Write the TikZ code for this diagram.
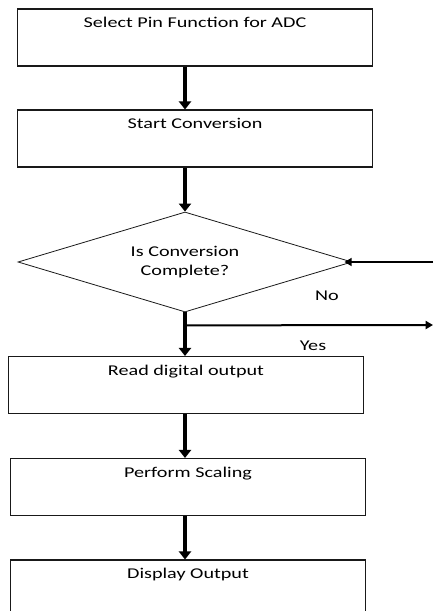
\documentclass[tikz,border=0pt]{standalone}
\usepackage{fontspec}
\setmainfont[FakeStretch=1.35]{Carlito}
\usepackage{tikz}
\usetikzlibrary{shapes.geometric, arrows.meta, positioning, calc}
\definecolor{flowline}{RGB}{25,25,25}

\tikzset{
  procbox/.style={rectangle, draw=flowline, line width=0.8pt, minimum width=266pt, minimum height=42.75pt, inner sep=0pt},
  boxtext/.style={anchor=north, inner sep=0pt, yshift=-6.5pt, font=\fontsize{11.2}{13}\selectfont},
  decision/.style={diamond, aspect=3.3, draw=flowline, line width=0.6pt, minimum width=250.5pt, minimum height=75pt, inner sep=0pt, align=center, font=\fontsize{11.2}{14}\selectfont},
  flowarrow/.style={draw=black, line width=2.6pt, -{Triangle[width=9pt,length=6pt]}},
  sidearrow/.style={draw=black, line width=1.5pt, -{Triangle[width=6pt,length=5.5pt]}},
  branchtext/.style={inner sep=0pt, font=\fontsize{11.2}{13}\selectfont}
}

\begin{document}
\begin{tikzpicture}[x=0.75pt, y=-0.75pt]
    \clip (0,0) rectangle (433,611);
    % process steps
    \node[procbox, label={[boxtext]north:Select Pin Function for ADC}] (selpin) at (195,37.5) {};
    \node[procbox, label={[boxtext]north:Start Conversion}] (startconv) at (195,138.5) {};
    \node[decision] (convdone) at (185,262) {Is Conversion\\Complete?};
    \node[procbox, label={[boxtext]north:Read digital output}] (readout) at (186,385) {};
    \node[procbox, label={[boxtext]north:Perform Scaling}] (scaling) at (188,487) {};
    \node[procbox, label={[boxtext]north:Display Output}] (display) at (188,588.5) {};

    % branch labels
    \node[branchtext] (nolabel) at (327,296) {No};
    \node[branchtext] (yeslabel) at (313,346) {Yes};

    \coordinate (split) at ($(convdone.south)+(0,13)$);
    \coordinate (loopin) at (433,262);
    \coordinate (exitout) at (433,325);

    % connectors
    \draw[flowarrow] (selpin.south -| convdone) -- (startconv.north -| convdone);
    \draw[flowarrow] (startconv.south -| convdone) -- (convdone.north);
    \draw[flowarrow] (convdone.south) -- (readout.north -| convdone);
    \draw[flowarrow] (readout.south -| convdone) -- (scaling.north -| convdone);
    \draw[flowarrow] (scaling.south -| convdone) -- (display.north -| convdone);
    \draw[sidearrow, shorten >=-6pt] (loopin) -- (convdone.east);
    \draw[sidearrow] (split) -- (exitout);
\end{tikzpicture}
\end{document}
